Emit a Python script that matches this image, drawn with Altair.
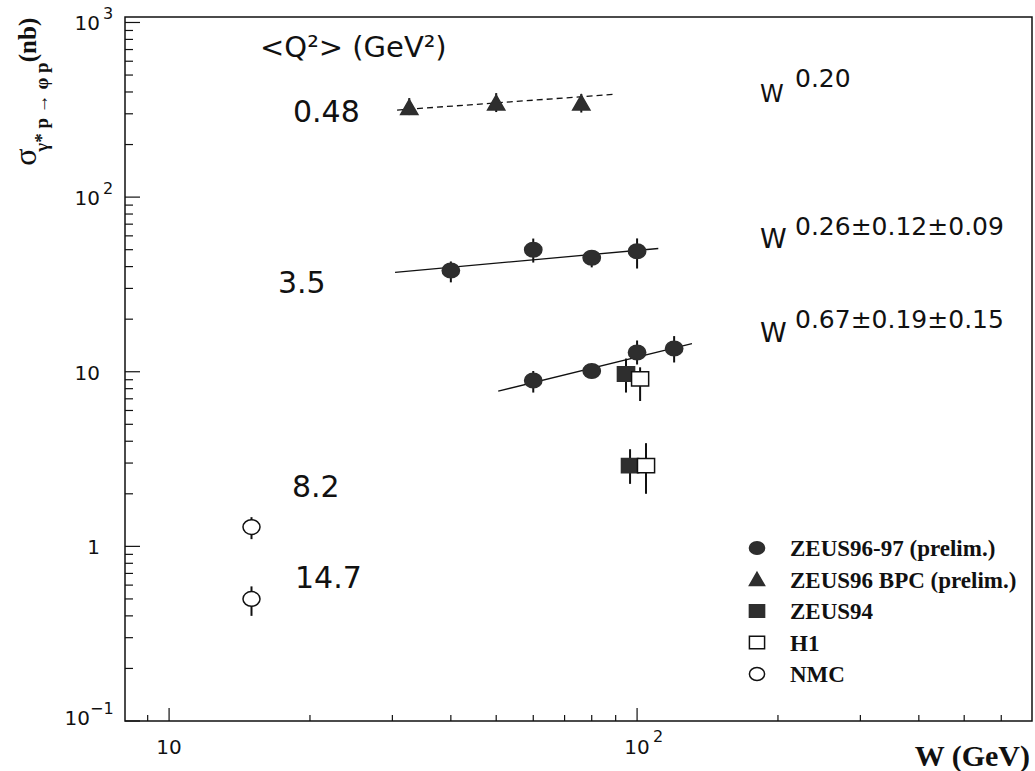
import altair as alt
import pandas as pd

# ---- measurements: W (GeV), cross section (nb), error-bar ends ----
zeus9697_w = [40, 60, 80, 100, 60, 80, 100, 120]
zeus9697_sigma = [38, 50, 45, 49, 8.9, 10.1, 12.9, 13.6]
zeus9697_lo = [32.5, 42.2, 39.6, 39.0, 7.6, 9.2, 11.0, 11.3]
zeus9697_hi = [42.8, 57.9, 48.8, 58.0, 10.1, 11.0, 15.1, 16.0]

bpc_w = [32.6, 50, 76]
bpc_sigma = [325, 345, 345]
bpc_lo = [295, 307, 305]
bpc_hi = [369, 394, 390]

zeus94_w = [94.7, 96.6]
zeus94_sigma = [9.7, 2.9]
zeus94_lo = [7.6, 2.28]
zeus94_hi = [11.9, 3.6]

h1_w = [101.5, 104.5]
h1_sigma = [9.1, 2.9]
h1_lo = [6.8, 2.0]
h1_hi = [10.6, 3.9]

nmc_w = [15, 15]
nmc_sigma = [1.29, 0.50]
nmc_lo = [1.10, 0.40]
nmc_hi = [1.47, 0.59]

# ---- power-law fits (end points) ----
fit_048_w = [30.7, 89.6]
fit_048_sigma = [315, 388]
fit_35_w = [30.4, 111]
fit_35_sigma = [37.1, 50.8]
fit_82_w = [50.5, 131]
fit_82_sigma = [7.74, 14.5]

# ---- legend entries ----
dataset_names = ["ZEUS96-97 (prelim.)", "ZEUS96 BPC (prelim.)", "ZEUS94", "H1", "NMC"]

# ---- axis ticks ----
x_major = [10, 100]
x_minor = [9] + [m * 10 for m in range(2, 10)] + [m * 100 for m in range(2, 7)]
y_major = [0.1, 1, 10, 100, 1000]
y_minor = [m * d for d in (0.1, 1, 10, 100) for m in range(2, 10)]
y_label_base = ["10", "1", "10", "10", "10"]
y_label_exp = ["\u22121", "", "", "2", "3"]
x_label_base = ["10", "10"]
x_label_exp = ["", "2"]

W_PLOT, H_PLOT = 907, 704
xscale = alt.Scale(type="log", domain=[8.05, 698], nice=False)
yscale = alt.Scale(type="log", domain=[0.1, 1075], nice=False)

INK = "#111111"
FILL_DARK = "#2e2e2e"
SANS = "DejaVu Sans"
SERIF = "Liberation Serif"


def frame(names, ws, sig, lo, hi):
    return pd.DataFrame({"dataset": names, "W": ws, "sigma": sig, "lo": lo, "hi": hi})


points = pd.concat([
    frame([dataset_names[0]] * len(zeus9697_w), zeus9697_w, zeus9697_sigma, zeus9697_lo, zeus9697_hi),
    frame([dataset_names[1]] * len(bpc_w), bpc_w, bpc_sigma, bpc_lo, bpc_hi),
    frame([dataset_names[2]] * len(zeus94_w), zeus94_w, zeus94_sigma, zeus94_lo, zeus94_hi),
    frame([dataset_names[3]] * len(h1_w), h1_w, h1_sigma, h1_lo, h1_hi),
    frame([dataset_names[4]] * len(nmc_w), nmc_w, nmc_sigma, nmc_lo, nmc_hi),
], ignore_index=True)

X = alt.X("W:Q", scale=xscale, axis=None)
Y = alt.Y("sigma:Q", scale=yscale, axis=None)

# error bars
errbars = alt.Chart(points).mark_rule(color=INK, strokeWidth=2).encode(
    x=X, y=alt.Y("lo:Q", scale=yscale, axis=None), y2="hi:Q"
)

# marker shapes as unit paths
ELLIPSE = "M-1,0A1,0.84,0,1,0,1,0A1,0.84,0,1,0,-1,0Z"
TRIANGLE = "M0,-0.95L1,0.8L-1,0.8Z"
SQUARE = "M-1,-0.84H1V0.84H-1Z"
RING = "M-1,0A1,0.86,0,1,0,1,0A1,0.86,0,1,0,-1,0Z"

shape_scale = alt.Scale(domain=dataset_names, range=[ELLIPSE, TRIANGLE, SQUARE, SQUARE, RING])
fill_scale = alt.Scale(domain=dataset_names, range=[FILL_DARK, FILL_DARK, FILL_DARK, "white", "white"])
stroke_scale = alt.Scale(domain=dataset_names, range=[FILL_DARK, FILL_DARK, FILL_DARK, INK, INK])
size_scale = alt.Scale(domain=dataset_names, range=[300, 290, 256, 256, 196])

markers = alt.Chart(points).mark_point(opacity=1, fillOpacity=1, strokeWidth=1.5).encode(
    x=X, y=Y,
    shape=alt.Shape("dataset:N", scale=shape_scale, legend=None),
    fill=alt.Fill("dataset:N", scale=fill_scale, legend=None),
    stroke=alt.Stroke("dataset:N", scale=stroke_scale, legend=None),
    size=alt.Size("dataset:N", scale=size_scale, legend=None),
)

# legend block (symbols share the marker scales)
LEG_X_SYM, LEG_X_TXT, LEG_Y0, LEG_STEP = 632, 665, 531, 31.5
legend_layers = []
for i, name in enumerate(dataset_names):
    row = pd.DataFrame({"dataset": [name]})
    yy = LEG_Y0 + i * LEG_STEP
    legend_layers.append(
        alt.Chart(row).mark_point(opacity=1, fillOpacity=1, strokeWidth=1.5).encode(
            x=alt.value(LEG_X_SYM), y=alt.value(yy),
            shape=alt.Shape("dataset:N", scale=shape_scale, legend=None),
            fill=alt.Fill("dataset:N", scale=fill_scale, legend=None),
            stroke=alt.Stroke("dataset:N", scale=stroke_scale, legend=None),
            size=alt.value(230),
        )
    )
    legend_layers.append(
        alt.Chart(row).mark_text(align="left", baseline="middle", font=SERIF, fontWeight="bold",
                                 fontSize=23, color=INK).encode(
            x=alt.value(LEG_X_TXT), y=alt.value(yy + 1), text="dataset:N")
    )
legend_block = alt.layer(*legend_layers)


def fit_line(ws, sig, dash=None):
    df = pd.DataFrame({"W": ws, "sigma": sig})
    kw = dict(color=INK, strokeWidth=1.3)
    if dash:
        kw["strokeDash"] = dash
    return alt.Chart(df).mark_line(**kw).encode(x=X, y=Y)


fits = (fit_line(fit_048_w, fit_048_sigma, [6, 4])
        + fit_line(fit_35_w, fit_35_sigma)
        + fit_line(fit_82_w, fit_82_sigma))


# inward ticks on the left and bottom axes
def yticks(vals, length):
    return alt.Chart(pd.DataFrame({"v": vals})).mark_rule(color=INK, strokeWidth=1.2).encode(
        y=alt.Y("v:Q", scale=yscale, axis=None), x=alt.value(0), x2=alt.value(length))


def xticks(vals, length):
    return alt.Chart(pd.DataFrame({"v": vals})).mark_rule(color=INK, strokeWidth=1.2).encode(
        x=alt.X("v:Q", scale=xscale, axis=None), y=alt.value(H_PLOT), y2=alt.value(H_PLOT - length))


ticks = yticks(y_major, 15) + yticks(y_minor, 8) + xticks(x_major, 13) + xticks(x_minor, 6)

# tick labels
ylab = pd.DataFrame({"v": y_major, "base": y_label_base, "exp": y_label_exp})
ylab_pos = alt.Chart(ylab).transform_filter("datum.v >= 1")
ylab_neg = alt.Chart(ylab).transform_filter("datum.v < 1")
ytext_style = dict(font=SANS, fontSize=20, color=INK, baseline="middle")
yexp_style = dict(font=SANS, fontSize=16, color=INK, baseline="middle", align="left")
ylabels = (
    ylab_pos.mark_text(align="right", dy=2, **ytext_style).encode(
        y=alt.Y("v:Q", scale=yscale, axis=None), x=alt.value(-25), text="base:N")
    + ylab_pos.mark_text(dy=-8, **yexp_style).encode(
        y=alt.Y("v:Q", scale=yscale, axis=None), x=alt.value(-22), text="exp:N")
    + ylab_neg.mark_text(align="right", dy=-2, **ytext_style).encode(
        y=alt.Y("v:Q", scale=yscale, axis=None), x=alt.value(-35), text="base:N")
    + ylab_neg.mark_text(dy=-12, **yexp_style).encode(
        y=alt.Y("v:Q", scale=yscale, axis=None), x=alt.value(-35), text="exp:N")
)

xlab = pd.DataFrame({"v": x_major, "base": x_label_base, "exp": x_label_exp})
xlabels = (
    alt.Chart(xlab).mark_text(align="center", baseline="alphabetic", font=SANS, fontSize=20, color=INK).encode(
        x=alt.X("v:Q", scale=xscale, axis=None), y=alt.value(H_PLOT + 33), text="base:N")
    + alt.Chart(xlab).mark_text(align="left", baseline="alphabetic", dx=16, font=SANS, fontSize=16, color=INK).encode(
        x=alt.X("v:Q", scale=xscale, axis=None), y=alt.value(H_PLOT + 21), text="exp:N")
)


def label(text, x, y, size, font=SANS, weight="normal", align="left", angle=0, baseline="alphabetic"):
    return alt.Chart(pd.DataFrame({"t": [text]})).mark_text(
        font=font, fontSize=size, fontWeight=weight, color=INK, align=align,
        baseline=baseline, angle=angle,
    ).encode(text="t:N", x=alt.value(x), y=alt.value(y))


annotations = (
    label("<Q\u00b2> (GeV\u00b2)", 135, 40, 29)
    + label("0.48", 168, 105, 30)
    + label("3.5", 153, 276, 30)
    + label("8.2", 167, 480, 30)
    + label("14.7", 170, 571, 30)
    + label("W", 635, 85, 24)
    + label("0.20", 670, 70, 25)
    + label("W", 635, 231, 27)
    + label("0.26\u00b10.12\u00b10.09", 670, 218, 25)
    + label("W", 635, 325, 27)
    + label("0.67\u00b10.19\u00b10.15", 670, 311, 25)
)

# axis titles
titles = (
    label("W (GeV)", 905, 749, 30, font=SERIF, weight="bold", align="right")
    + label("\u03c3", -99, 140, 32, font=SERIF, align="center", angle=270, baseline="middle")
    + label("\u03b3* p \u2192 \u03c6 p", -83, 90, 19, font=SERIF, weight="bold", align="center", angle=270, baseline="middle")
    + label("(nb)", -97, 23, 25, font=SERIF, weight="bold", align="center", angle=270, baseline="middle")
)

chart = alt.layer(
    ticks, fits, errbars, markers, legend_block, ylabels, xlabels, annotations, titles
).properties(
    width=W_PLOT, height=H_PLOT,
    autosize=alt.AutoSizeParams(type="none"),
    padding={"left": 125, "top": 17, "right": 3, "bottom": 50},
    background="white",
).configure_view(stroke=INK, strokeWidth=1.5)

chart.save("out.html", embed_options={"renderer": "svg", "actions": False})
